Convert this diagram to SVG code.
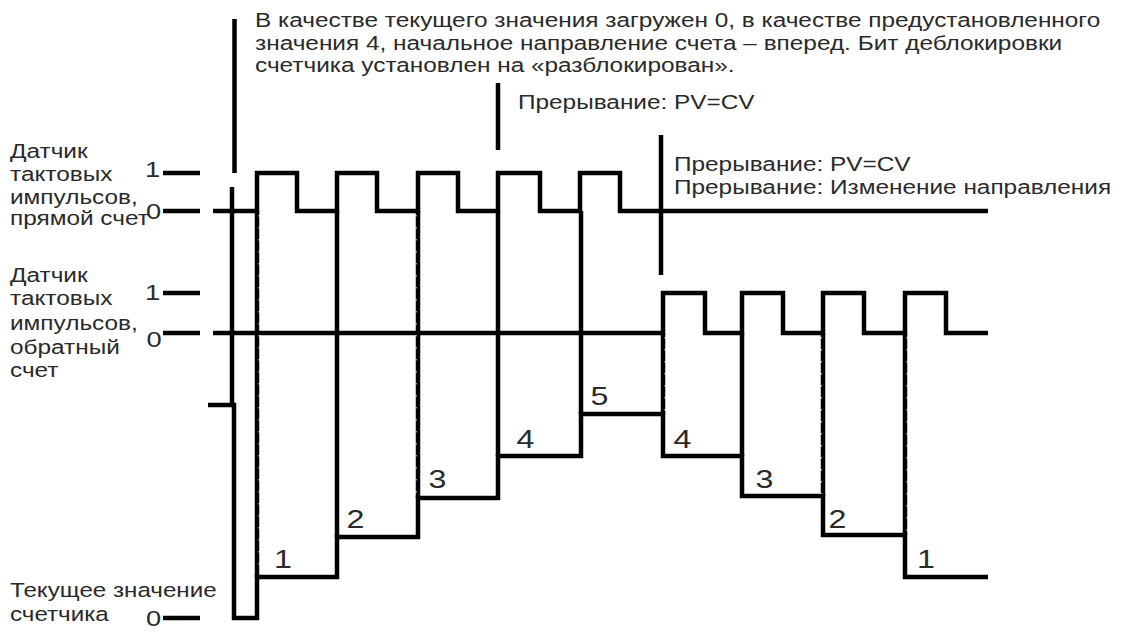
<svg xmlns="http://www.w3.org/2000/svg" width="1121" height="632" viewBox="0 0 1121 632">
<style>
.w{fill:none;stroke:#000;stroke-width:4.5;stroke-linejoin:miter;stroke-linecap:butt}
.d{fill:none;stroke:#fff;stroke-width:1.2;stroke-dasharray:1.5 10.5}
.t{font-family:"Liberation Sans",Arial,sans-serif;font-size:19.5px;fill:#2a2a2a}
.n{font-family:"Liberation Sans",Arial,sans-serif;font-size:22px;fill:#2a2a2a;text-anchor:middle}
.s{font-family:"Liberation Sans",Arial,sans-serif;font-size:26px;fill:#2a2a2a;text-anchor:middle}
</style>
<rect width="1121" height="632" fill="#fff"/>
<g id="labels">
<text class="t" transform="translate(255,27) scale(1.25,1)">В качестве текущего значения загружен 0, в качестве предустановленного</text>
<text class="t" transform="translate(255,49.5) scale(1.25,1)">значения 4, начальное направление счета – вперед. Бит деблокировки</text>
<text class="t" transform="translate(255,72) scale(1.25,1)">счетчика установлен на «разблокирован».</text>
<text class="t" transform="translate(518,109) scale(1.25,1)">Прерывание: PV=CV</text>
<text class="t" transform="translate(674,171) scale(1.25,1)">Прерывание: PV=CV</text>
<text class="t" transform="translate(674,193.5) scale(1.25,1)">Прерывание: Изменение направления</text>
<text class="t" transform="translate(10,158) scale(1.25,1)">Датчик</text>
<text class="t" transform="translate(10,181) scale(1.25,1)">тактовых</text>
<text class="t" transform="translate(10,203.5) scale(1.25,1)">импульсов,</text>
<text class="t" transform="translate(10,225) scale(1.25,1)">прямой счет</text>
<text class="t" transform="translate(10,282) scale(1.25,1)">Датчик</text>
<text class="t" transform="translate(10,305) scale(1.25,1)">тактовых</text>
<text class="t" transform="translate(10,330) scale(1.25,1)">импульсов,</text>
<text class="t" transform="translate(10,353.5) scale(1.25,1)">обратный</text>
<text class="t" transform="translate(10,377) scale(1.25,1)">счет</text>
<text class="t" transform="translate(10,597) scale(1.24,1)">Текущее значение</text>
<text class="t" transform="translate(10,621) scale(1.24,1)">счетчика</text>
<text class="n" transform="translate(152.5,177) scale(1.24,1)">1</text>
<text class="n" transform="translate(153.5,218.5) scale(1.24,1)">0</text>
<text class="n" transform="translate(152.5,300) scale(1.24,1)">1</text>
<text class="n" transform="translate(154,347) scale(1.24,1)">0</text>
<text class="n" transform="translate(153.5,626) scale(1.24,1)">0</text>
</g>
<g id="ticks">
<path class="w" d="M163,173H200M163,211H200M163,293H200M163,333H200M163,618H200"/>
</g>
<g id="forward-clock">
<path class="w" d="M213,211H257V173H297V211H337V173H377V211H418V173H458V211H498V173H540V211H580V173H620V211H988"/>
</g>
<g id="reverse-clock">
<path class="w" d="M213,333H663V293H705V333H742V293H783V333H823V293H864V333H905V293H946V333H988"/>
</g>
<g id="counter">
<path class="w" d="M208,405H234V618H257V577H337V537H418V498H498V456H581V414H663V456H742V496H823V535H905V577H988"/>
<text class="s" transform="translate(283,568) scale(1.24,1)">1</text>
<text class="s" transform="translate(355.5,528) scale(1.24,1)">2</text>
<text class="s" transform="translate(437.5,488) scale(1.24,1)">3</text>
<text class="s" transform="translate(525.5,448) scale(1.24,1)">4</text>
<text class="s" transform="translate(599.5,405) scale(1.24,1)">5</text>
<text class="s" transform="translate(682.5,448) scale(1.24,1)">4</text>
<text class="s" transform="translate(764.5,488) scale(1.24,1)">3</text>
<text class="s" transform="translate(837.5,528) scale(1.24,1)">2</text>
<text class="s" transform="translate(926,568) scale(1.24,1)">1</text>
</g>
<g id="connectors">
<path class="w" d="M257,211V577M337,211V537M418,211V498M498,211V456M581,211V414M663,333V414M742,333V456M823,333V496M905,333V535"/>
<path class="d" d="M259.2,215V575M416,215V496M821,337V494M907.2,337V533M665.2,337V412"/>
<path class="w" d="M234.5,19V173M232,187V405M498,83V150M661,135V275"/>
</g>
</svg>
